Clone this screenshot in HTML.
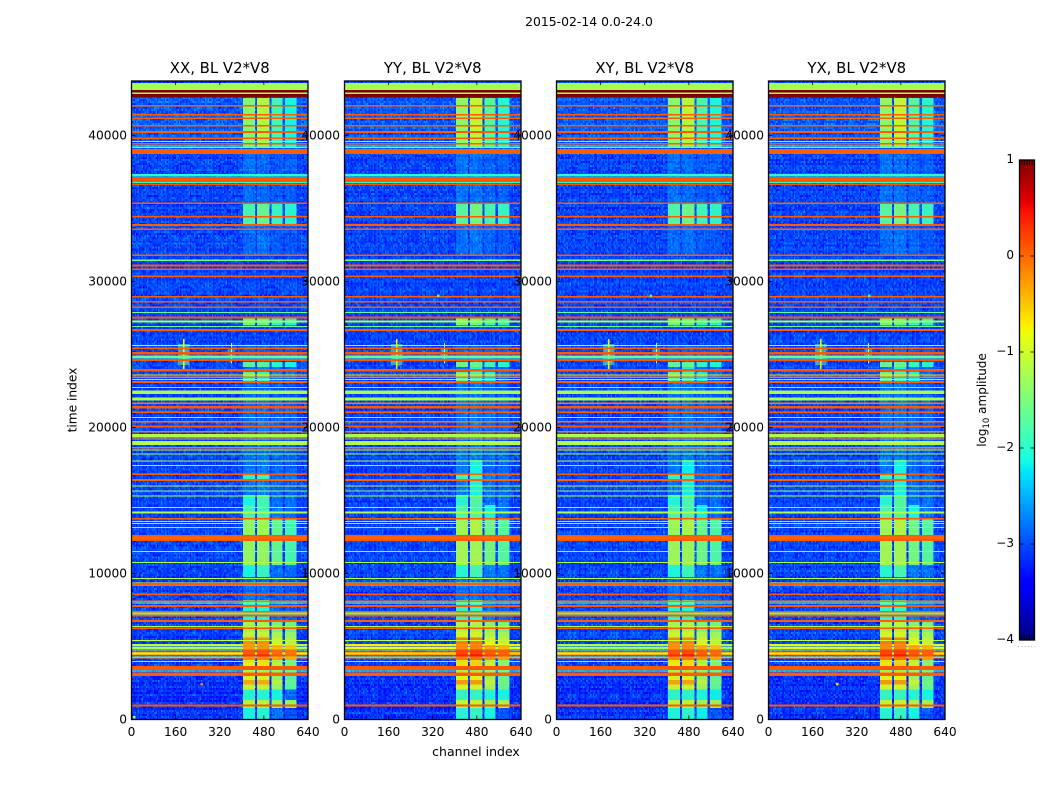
<!DOCTYPE html>
<html>
<head>
<meta charset="utf-8">
<title>2015-02-14 0.0-24.0</title>
<style>
html,body{margin:0;padding:0;background:#fff;width:1050px;height:800px;overflow:hidden}
#stage{position:relative;width:1050px;height:800px}
canvas{position:absolute;top:81px;height:638.5px;width:176.5px;image-rendering:pixelated}
svg{position:absolute;left:0;top:0}
text{font-family:"DejaVu Sans","Liberation Sans",sans-serif;fill:#000}
</style>
</head>
<body>
<div id="stage">
<canvas id="c0" width="128" height="320" style="left:131.5px"></canvas>
<canvas id="c1" width="128" height="320" style="left:344.5px"></canvas>
<canvas id="c2" width="128" height="320" style="left:556.5px"></canvas>
<canvas id="c3" width="128" height="320" style="left:768.5px"></canvas>
<svg id="plot" width="1050" height="800" viewBox="0 0 1050 800"></svg>
</div>
<script>
// ---------- chart data ----------
const panelTitles = ['XX, BL V2*V8','YY, BL V2*V8','XY, BL V2*V8','YX, BL V2*V8'];
const xTicks = [0,160,320,480,640];
const yTicks = [0,10000,20000,30000,40000];
const cbarTicks = [1,0,-1,-2,-3,-4];

// horizontal RFI stripes: time index, thickness (time samples), log10 amplitude
const stripeTimes = [43354,43032,42895,42723,42045,41408,41182,40675,40244,39812,39579,39422,39285,39168,38908,37278,36990,36785,36648,35360,34442,33873,33579,31798,31455,31099,30839,30359,28962,28619,28236,27893,27523,27249,26907,26681,25605,25427,25085,24831,24626,23927,23598,23441,23304,23119,22756,22413,21954,21660,21386,21043,20701,20399,20057,19714,19440,19214,18940,18618,18461,18187,17707,17385,16796,16406,15995,15652,15310,14536,14166,13755,13549,13412,13166,12570,12433,12296,11522,10768,9672,9282,9282,8576,8097,7980,7775,7384,7261,7110,6747,6384,6247,5398,3987,3528,3322,3165,3048,945];
const stripeSpans = [460,185,90,255,70,70,70,70,140,70,70,70,70,70,340,185,340,70,90,70,90,70,70,70,70,165,70,70,70,70,70,70,140,140,70,70,70,70,140,200,90,165,70,70,70,70,70,225,235,70,140,70,70,70,140,70,235,70,295,70,70,70,70,70,70,110,70,70,70,70,140,70,70,70,70,90,200,90,70,70,70,235,70,70,70,70,140,70,140,140,70,70,70,70,70,275,70,70,70,140];
const stripeLevels = [-1.27,1,-1.3,1,0.05,0.05,0.05,0.05,0.05,0.05,-1.4,0.05,-1.9,-1.5,0.05,-2,0.08,-2,0.08,0.05,0.08,0.05,0.05,0.05,-1.5,0.05,0.05,0.05,0.05,0.05,0.05,-1.6,0.08,-1.2,-1.6,0.05,-1.1,0.05,0.08,-1.7,0.08,0.08,-0.7,-0.1,-1.1,0.05,-1.6,-1.25,-1.2,-0.1,0.08,0.05,-1.3,-0.1,0.08,-0.1,-1.2,-0.3,-1.2,-0.1,-1.2,-1.2,-1.2,-1.4,0.05,0.03,-1.2,-1.4,-1.2,-1.4,-1.2,0.05,-1.4,-1.4,-1.4,0.08,0,0.08,-1.4,-1.2,-1.2,-0.7,0.05,0.05,-0.1,-1.3,0.08,0.05,-1.7,0.08,0.05,-1.2,0.05,-1.1,-1.5,0.08,-1.8,0.05,0.05,0.08];

// warm broadband band near t = 4500, with per-panel strength offset
const warmTimes = [5100,4930,4760,4620,4490,4415,4280,4210];
const warmSpans = [150,170,100,70,200,70,100,70];
const warmLevels = [-0.85,-0.95,-0.85,-0.1,-0.7,-0.05,-0.85,-0.1];
const warmOffsets = [-0.25,0.12,-0.35,0];

// interference blocks: channel ranges and time segments with a level per block
const blockStarts = [405,455,507,556];
const blockEnds = [447,500,548,598];
const segmentStarts = [39150,35380,33870,31800,27000,24490,24150,23800,23180,22230,17780,16820,16340,15380,14700,13800,12570,10590,9760,8190,6810,5990,5600,4800,4500,4300,4075,5100,3250,2700,2400,2040,1340,790,0];
const segmentEnds = [42570,38730,35380,33870,27600,25650,24490,24150,23800,23180,22230,17780,16820,16340,15380,14700,13800,12570,10590,9760,8190,6810,5990,5100,4800,4500,4300,5600,4075,3250,2700,2400,2040,1340,790];
const segmentBlock1 = [-1.3,-2.3,-1.7,-2.4,-1.5,-2.5,-1.6,-2.2,-1.6,-2.2,-2.3,-2.2,-1.9,-2.2,-2.0,-1.7,-1.2,-1.2,-2.0,-2.3,-1.9,-1.1,-0.9,-0.15,0.2,0.35,-0.1,-0.15,-0.7,-0.8,-0.3,-0.9,-1.9,-1.0,-2.0];
const segmentBlock2 = [-1.0,-2.35,-1.5,-2.3,-1.6,-2.4,-1.6,-2.1,-1.8,-2.2,-2.2,-2.1,-1.8,-2.1,-1.7,-1.7,-1.1,-1.2,-1.8,-2.3,-1.9,-1.1,-0.9,-0.1,0.25,0.45,-0.05,-0.15,-0.6,-0.8,-0.3,-0.9,-1.9,-1.0,-1.9];
const segmentBlock3 = [-1.7,-2.6,-1.8,-2.6,-1.9,-2.6,-1.9,-2.3,-2.1,-2.5,-2.4,-2.4,-2.2,-2.4,-2.3,-2.1,-1.5,-1.5,-2.2,-2.5,-2.3,-1.4,-1.1,-0.3,0.1,0.2,-0.2,-0.8,-1.0,-1.2,-1.0,-1.2,-2.0,-1.2,-2.1];
const segmentBlock4 = [-2.0,-2.6,-1.9,-2.7,-2.0,-2.6,-2.0,-2.4,-2.3,-2.6,-2.5,-2.5,-2.2,-2.5,-2.3,-2.2,-1.7,-1.7,-2.3,-2.6,-2.5,-1.5,-1.2,-0.4,0.05,0.1,-0.3,-1.0,-1.4,-1.6,-1.5,-1.6,-2.1,-1.2,-2.6];
const blockOffsets = [-0.1,0,-0.05,0];

// narrowband spikes around t = 25000: channel, half-height, level, half-width, glow level
const spikeChannels = [189,362];
const spikeCenter = [25000,25100];
const spikeHalfSpan = [1050,700];
const spikeLevels = [-0.7,-0.9];
const spikeHalfWidth = [3,2];
const spikeGlow = [-1.6,-2.2];

// isolated bright samples: panel, channel, time, level
const dotPanels = [0,0,1,1,2,3,3];
const dotChannels = [6,251,336,330,338,360,244];
const dotTimes = [130,2400,29000,13000,29000,29000,2400];
const dotLevels = [-1.2,-0.1,-1.8,-1.8,-1.8,-1.8,-0.6];

// noise floor tone by time range, plus a hand-picked speckle texture
const toneStarts = [39000,700,0];
const toneEnds = [42800,3000,700];
const toneLevels = [-2.95,-3.15,-3.12];
const floorLevel = -3.05;
const speckleA = [0.12,-0.2,0.05,-0.08,0.22,-0.15,0.02,0.16,-0.24,0.08,-0.03,0.19,-0.11,-0.18,0.1,0.01,-0.06];
const speckleB = [-0.04,0.09,-0.12,0.02,0.14,-0.07,0.05,-0.16,0.11,-0.02,0.07,-0.1,0.13,-0.05,0.03,-0.13,0.06,0.1,-0.09,0.01,-0.03,0.08,-0.06];
const speckleC = [0.3,-0.25,0.05,-0.4,0.45,0.1,-0.15,0.6,-0.3,0,0.2,-0.5,0.35,-0.1,0.15,-0.35,0.75,-0.2,0.08,-0.45,0.25,-0.05,0.4,-0.28,0.12,-0.38,0.55,-0.12,0.02,-0.22,0.18];

// ---------- scales ----------
const axX = [131.5,344.5,556.5,768.5], axW = 176.5, axTop = 81, axBot = 719.5;
const maxT = (axBot-axTop)/0.0146;
const xs = (p,ch) => axX[p] + ch/640*axW;
const ys = t => axBot - t*0.0146;
const vmin = -4, vmax = 1;
function interp(pts,x){
  for(let i=1;i<pts.length;i++){
    if(x<=pts[i][0]){const a=pts[i-1],b=pts[i];return a[1]+(b[1]-a[1])*(x-a[0])/(b[0]-a[0]);}
  }
  return pts[pts.length-1][1];
}
const jR=[[0,0],[.35,0],[.66,1],[.89,1],[1,.5]];
const jG=[[0,0],[.125,0],[.375,1],[.64,1],[.91,0],[1,0]];
const jB=[[0,.5],[.11,1],[.34,1],[.65,0],[1,0]];
function jetRGB(level){
  const n=Math.max(0,Math.min(1,(level-vmin)/(vmax-vmin)));
  return [interp(jR,n),interp(jG,n),interp(jB,n)].map(v=>Math.round(v*255));
}
const jet = level => 'rgb('+jetRGB(level).join(',')+')';

const NS='http://www.w3.org/2000/svg';
const root=document.getElementById('plot');
function mk(tag,attrs,parent,txt){
  const e=document.createElementNS(NS,tag);
  for(const k in attrs)e.setAttribute(k,attrs[k]);
  if(txt!==undefined)e.textContent=txt;
  (parent||root).appendChild(e);
  return e;
}

// ---------- noise floor ----------
for(let p=0;p<4;p++){
  const c=document.getElementById('c'+p),g=c.getContext('2d'),img=g.createImageData(128,320);
  for(let r=0;r<320;r++){
    const t=maxT*(1-(r+.5)/320);
    let base=floorLevel;
    for(let i=0;i<toneStarts.length;i++) if(t>=toneStarts[i]&&t<toneEnds[i]) base=toneLevels[i];
    for(let k=0;k<128;k++){
      const q=((k+3+p*5)*(r+7+p*3)+k*k)%31;
      const v=base+speckleA[(k+p)%17]*.4+speckleB[(r+p*4)%23]*.5+speckleC[q]*.45;
      const col=jetRGB(v),o=(r*128+k)*4;
      img.data[o]=col[0];img.data[o+1]=col[1];img.data[o+2]=col[2];img.data[o+3]=255;
    }
  }
  g.putImageData(img,0,0);
}

// ---------- panels ----------
const segmentBlocks=[segmentBlock1,segmentBlock2,segmentBlock3,segmentBlock4];
for(let p=0;p<4;p++){
  const pg=mk('g',{});
  
  
  const clipId='clip'+p;
  const cp=mk('clipPath',{id:clipId},pg);
  mk('rect',{x:axX[p],y:axTop,width:axW,height:axBot-axTop},cp);
  const marks=mk('g',{'clip-path':'url(#'+clipId+')','shape-rendering':'crispEdges'},pg);

  // warm band (underneath the blocks)
  for(let i=0;i<warmTimes.length;i++){
    const h=Math.max(1,warmSpans[i]*0.0146);
    const w=mk('rect',{x:axX[p],y:ys(warmTimes[i])-h/2,width:axW,height:h,fill:jet(warmLevels[i]+(warmLevels[i]<-0.5?warmOffsets[p]:0))},marks);
    
    
  }
  // blocks
  for(let s=0;s<segmentStarts.length;s++){
    for(let b=0;b<4;b++){
      const lv=segmentBlocks[b][s]+blockOffsets[p];
      const y1=ys(segmentEnds[s]),y0=ys(segmentStarts[s]);
      const r=mk('rect',{x:xs(p,blockStarts[b]),y:y1,width:xs(p,blockEnds[b])-xs(p,blockStarts[b]),height:y0-y1,fill:jet(lv),opacity:lv<-2.15?0.32:0.94},marks);
      
      
    }
  }
  // spikes
  for(let i=0;i<spikeChannels.length;i++){
    const ch=spikeChannels[i],y1=ys(spikeCenter[i]+spikeHalfSpan[i]),y0=ys(spikeCenter[i]-spikeHalfSpan[i]);
    const gl=mk('rect',{x:xs(p,ch-spikeHalfWidth[i]*7),y:y1+5,width:xs(p,ch+spikeHalfWidth[i]*7)-xs(p,ch-spikeHalfWidth[i]*7),height:y0-y1-10,fill:jet(spikeGlow[i]),opacity:0.55},marks);
    
    
    const sp=mk('rect',{x:xs(p,ch-spikeHalfWidth[i]),y:y1,width:xs(p,ch+spikeHalfWidth[i])-xs(p,ch-spikeHalfWidth[i]),height:y0-y1,fill:jet(spikeLevels[i])},marks);
    
    
  }
  // stripes
  for(let i=0;i<stripeTimes.length;i++){
    const h=Math.max(stripeLevels[i]>-0.3?1.6:1,stripeSpans[i]*0.0146);
    const s=mk('rect',{x:axX[p],y:ys(stripeTimes[i])-h/2,width:axW,height:h,fill:jet(stripeLevels[i])},marks);
    
    
  }
  // dots
  for(let i=0;i<dotPanels.length;i++){
    if(dotPanels[i]!==p)continue;
    const d=mk('rect',{x:xs(p,dotChannels[i]),y:ys(dotTimes[i])-1.5,width:2.5,height:2.5,fill:jet(dotLevels[i])},marks);
    
    
  }

  // frame
  const fr=mk('rect',{x:axX[p],y:axTop,width:axW,height:axBot-axTop,fill:'none',stroke:'#000','stroke-width':1.3},pg);
  
  

  // x ticks
  xTicks.forEach(v=>{
    const x=xs(p,v);
    const t1=mk('line',{x1:x,x2:x,y1:axBot,y2:axBot-4,stroke:'#000','stroke-width':.8},pg);
    
    
    const t2=mk('line',{x1:x,x2:x,y1:axTop,y2:axTop+4,stroke:'#000','stroke-width':.8},pg);
    
    
    const lb=mk('text',{x:x,y:736,'text-anchor':'middle','font-size':12.2},pg,String(v));
    
    
  });
  // y ticks
  yTicks.forEach(v=>{
    const y=ys(v);
    const t1=mk('line',{x1:axX[p],x2:axX[p]+4,y1:y,y2:y,stroke:'#000','stroke-width':.8},pg);
    
    
    const t2=mk('line',{x1:axX[p]+axW,x2:axX[p]+axW-4,y1:y,y2:y,stroke:'#000','stroke-width':.8},pg);
    
    
    const lb=mk('text',{x:axX[p]-4.5,y:y+4,'text-anchor':'end','font-size':12.2},pg,String(v));
    
    
  });
  // title
  const tt=mk('text',{x:axX[p]+axW/2,y:73,'text-anchor':'middle','font-size':14.9},pg,panelTitles[p]);
  
  
}

// ---------- figure labels ----------
const sup=mk('text',{x:589,y:26,'text-anchor':'middle','font-size':12.4},root,'2015-02-14 0.0-24.0');


const xl=mk('text',{x:476,y:756,'text-anchor':'middle','font-size':12.5},root,'channel index');


const yl=mk('text',{'text-anchor':'middle','font-size':12.2,transform:'translate(76.5,400) rotate(-90)'},root,'time index');



// ---------- colorbar ----------
const cb={x:1019.5,y:160,w:15,h:480};
const cbg=mk('g',{});


for(let i=0;i<240;i++){
  const lv=vmax-(i+.5)/240*(vmax-vmin);
  const s=mk('rect',{x:cb.x,y:cb.y+i*cb.h/240,width:cb.w,height:cb.h/240+.5,fill:jet(lv),'shape-rendering':'crispEdges'},cbg);
  
  
}
const cbf=mk('rect',{x:cb.x,y:cb.y,width:cb.w,height:cb.h,fill:'none',stroke:'#000','stroke-width':1.3},cbg);


cbarTicks.forEach(v=>{
  const y=cb.y+(vmax-v)/(vmax-vmin)*cb.h;
  const a=mk('line',{x1:cb.x,x2:cb.x+4,y1:y,y2:y,stroke:'#000','stroke-width':.8},cbg);
  
  
  const b=mk('line',{x1:cb.x+cb.w,x2:cb.x+cb.w-4,y1:y,y2:y,stroke:'#000','stroke-width':.8},cbg);
  
  
  const lb=mk('text',{x:1014,y:y+3,'text-anchor':'end','font-size':12},cbg,String(v).replace('-','\u2212'));
  
  
});
for(let i=1;i<=5;i++){
  const x=cb.x+i*cb.w/6;
  const a=mk('line',{x1:x,x2:x,y1:cb.y,y2:cb.y+5,stroke:'#000','stroke-width':.8},cbg);
  
  
  const b=mk('line',{x1:x,x2:x,y1:cb.y+cb.h,y2:cb.y+cb.h-5,stroke:'#000','stroke-width':.8},cbg);
  
  
}
for(let i=0;i<6;i++){
  const d=mk('rect',{x:1018+i*3.3,y:646,width:1,height:1,fill:'#aaa'},cbg);
  
  
}
const cl=mk('text',{'text-anchor':'middle','font-size':12,transform:'translate(986,400) rotate(-90)'},root);


mk('tspan',{},cl,'log');
mk('tspan',{'font-size':8.5,dy:3},cl,'10');
mk('tspan',{dy:-3},cl,' amplitude');
</script>
</body>
</html>
